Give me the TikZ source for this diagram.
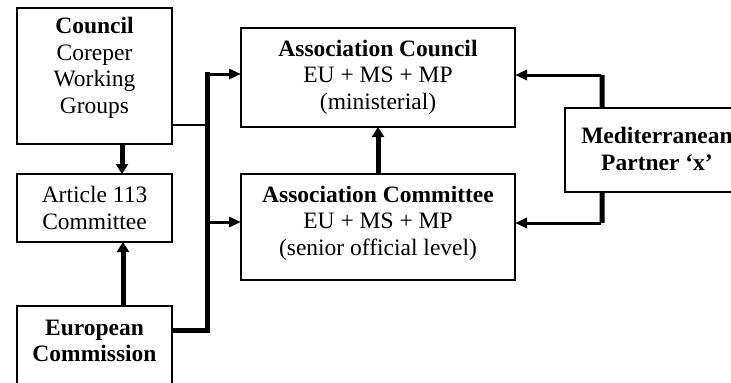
\documentclass[tikz,border=0pt]{standalone}
\usepackage{fontspec}
\setmainfont{Liberation Serif}
\usetikzlibrary{arrows.meta}
\begin{document}
\begin{tikzpicture}[x=1bp,y=-1bp,
  box/.style={draw, line width=1.5bp, inner sep=0pt, outer sep=0pt, anchor=north west},
  txt/.style={align=center, inner sep=0pt, font=\fontsize{23.5bp}{26.5bp}\selectfont},
  thickline/.style={line width=5bp},
  medline/.style={line width=3bp},
  thinline/.style={line width=1.2bp},
  bigtip/.style={-{Triangle[length=10bp,width=12bp]}},
  smalltip/.style={-{Triangle[length=12bp,width=10bp]}}]
\useasboundingbox (0,0) rectangle (731,382);
\clip (0,0) rectangle (731,382);
% boxes
\node[box, minimum width=155bp, minimum height=136bp] (council) at (17,8) {};
\node[txt] (counciltxt) at (94.5,68) {\textbf{Council}\\Coreper\\Working\\Groups};
\node[box, minimum width=155bp, minimum height=68bp] (art) at (17,174) {};
\node[txt] (arttxt) at (94.5,208) {Article 113\\Committee};
\node[box, minimum width=155bp, minimum height=100bp] (ec) at (17,306) {};
\node[txt] (ectxt) at (94.5,341) {\textbf{European}\\\textbf{Commission}};
\node[box, minimum width=274bp, minimum height=99bp] (ac) at (241,28) {};
\node[txt] (actxt) at (378,77) {\textbf{Association Council}\\EU + MS + MP\\(ministerial)};
\node[box, minimum width=274bp, minimum height=106bp] (acm) at (241,174) {};
\node[txt] (acmtxt) at (378,223) {\textbf{Association Committee}\\EU + MS + MP\\(senior official level)};
\node[box, minimum width=200bp, minimum height=84bp] (med) at (565,108) {};
\node[txt] (medtxt) at (657,149) {\textbf{Mediterranean}\\\textbf{Partner `x'}};
% coordinates
\coordinate (busT) at (207,74);
\coordinate (busB) at (207,330);
\coordinate (busM) at (207,222);
\coordinate (busC) at (207,125);
\coordinate (mT) at (602,75);
\coordinate (mB) at (602,223);
% connectors
\draw[thinline] (council.east |- busC) -- (busC);
\draw[thickline, line cap=rect] (busT) -- (busB);
\draw[thickline] (ec.east |- busB) -- (busB);
\draw[medline, smalltip] (busT) -- (ac.west |- busT);
\draw[medline, smalltip] (busM) -- (acm.west |- busM);
\draw[thickline, bigtip] ([xshift=105bp]council.south west) -- ([xshift=105bp]art.north west);
\draw[thickline, bigtip] ([xshift=106bp]ec.north west) -- ([xshift=106bp]art.south west);
\draw[thickline, bigtip] (acm.north) -- (ac.south);
\draw[thickline] ([xshift=37bp]med.north west) -- (mT);
\draw[medline, smalltip] ([xshift=-1bp]mT) -- (ac.east |- mT);
\draw[thickline] ([xshift=37bp]med.south west) -- (mB);
\draw[medline, smalltip] ([xshift=-1bp]mB) -- (acm.east |- mB);
\end{tikzpicture}
\end{document}
